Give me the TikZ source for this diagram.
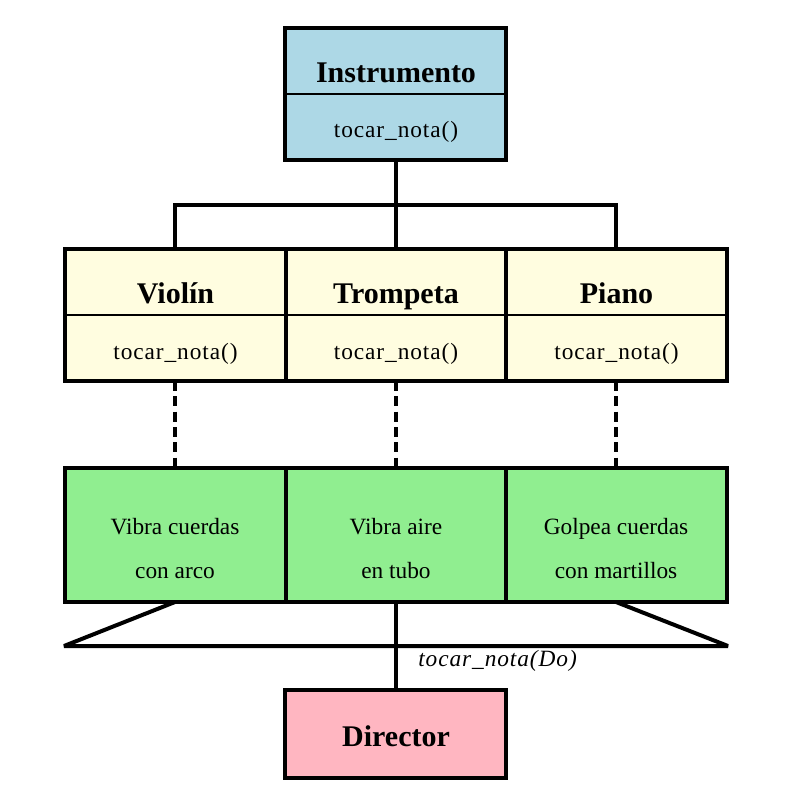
\documentclass[tikz,border=0pt]{standalone}
\usepackage{fontspec}
\setmainfont{Liberation Serif}
\begin{document}
\begin{tikzpicture}[x=0.75pt,y=-0.75pt,
  box/.style={draw=black,line width=3pt},
  divider/.style={draw=black,line width=1.3pt},
  conn/.style={draw=black,line width=3pt},
  dashconn/.style={draw=black,line width=3pt,dash pattern=on 7.5pt off 4pt},
  title/.style={font=\fontsize{22.5}{26}\selectfont\bfseries,inner sep=0pt,anchor=base},
  meth/.style={font=\fontsize{17.5}{22}\selectfont\addfontfeature{LetterSpace=4},inner sep=0pt,anchor=base},
  body/.style={font=\fontsize{17.5}{33}\selectfont,inner sep=0pt,align=center},
  lbl/.style={font=\fontsize{17.5}{22}\selectfont\itshape\addfontfeature{LetterSpace=4},inner sep=0pt,anchor=base west}]
\useasboundingbox[fill=white] (0,0) rectangle (795,798);
\definecolor{cblue}{HTML}{ADD8E6}
\definecolor{cyellow}{HTML}{FFFDE0}
\definecolor{cgreen}{HTML}{90EE90}
\definecolor{cpink}{HTML}{FFB6C1}
% Instrumento
\path[box,fill=cblue] (285,28) rectangle (506,160);
\draw[divider] (285,94) -- (506,94);
\node[title] (inst) at (396,83) {Instrumento};
\node[meth] (instm) at (396,138) {tocar\_nota()};
\coordinate (instb) at (396,160);
% row 2
\foreach \xa/\xb/\nm/\lab in {65/286/vio/Violín,286/506/tro/Trompeta,506/727/pia/Piano}{
  \path[box,fill=cyellow] (\xa,249) rectangle (\xb,381);
  \draw[divider] (\xa,315) -- (\xb,315);
  \node[title] (\nm) at ({(\xa+\xb)/2},303) {\lab};
  \node[meth] (\nm m) at ({(\xa+\xb)/2},359) {tocar\_nota()};
}
\coordinate (viot) at (175,249);
\coordinate (trot) at (396,249);
\coordinate (piat) at (616,249);
\coordinate (viob) at (175,381);
\coordinate (trob) at (396,381);
\coordinate (piab) at (616,381);
% connectors to instrumento
\draw[conn] (instb) -- (trot);
\draw[conn] (viot) -- (175,205) -- (616,205) -- (piat);
% row 3
\path[box,fill=cgreen] (65,468) rectangle (286,602);
\path[box,fill=cgreen] (286,468) rectangle (506,602);
\path[box,fill=cgreen] (506,468) rectangle (727,602);
\node[body] (g1) at (175,549) {Vibra cuerdas\\con arco};
\node[body] (g2) at (396,549) {Vibra aire\\en tubo};
\node[body] (g3) at (616,549) {Golpea cuerdas\\con martillos};
\coordinate (g1t) at (175,468);
\coordinate (g2t) at (396,468);
\coordinate (g3t) at (616,468);
\draw[dashconn] (viob) -- (g1t);
\draw[dashconn] (trob) -- (g2t);
\draw[dashconn] (piab) -- (g3t);
% trapezoid
\coordinate (g1b) at (175,602);
\coordinate (g2b) at (396,602);
\coordinate (g3b) at (616,602);
\coordinate (tl) at (64,646);
\coordinate (tr) at (728,646);
\draw[conn,line join=bevel] (g1b) -- (tl) -- (tr) -- (g3b);
% director
\path[box,fill=cpink] (285,690) rectangle (506,778);
\node[title] (dir) at (396,746) {Director};
\coordinate (dirt) at (396,690);
\draw[conn] (g2b) -- (dirt);
\node[lbl] (msg) at (418,666) {tocar\_nota(Do)};
\end{tikzpicture}
\end{document}
